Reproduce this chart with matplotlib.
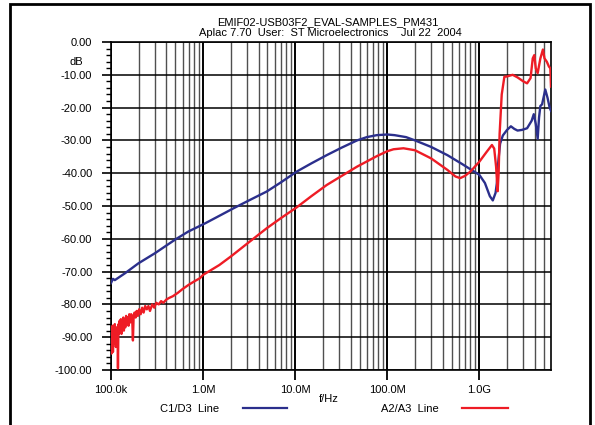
import matplotlib
matplotlib.use("Agg")
import matplotlib.pyplot as plt
from matplotlib.patches import Rectangle
from matplotlib.ticker import FixedLocator, NullFormatter

plt.rcParams['font.family'] = ['Liberation Sans', 'DejaVu Sans']

# C1/D3 line (blue)
blue_f = [1e5, 1.05e5, 1.1e5, 1.42e5, 1.98e5, 3e5, 5e5, 6.9e5, 1.05e6, 1.5e6, 2.14e6, 3.2e6,
          4.9e6, 7e6, 1.04e7, 1.5e7, 2.2e7, 3.2e7, 4.7e7, 6e7, 7.7e7, 1e8, 1.2e8, 1.6e8,
          2e8, 3e8, 4.5e8, 6.5e8, 8e8, 1e9, 1.15e9, 1.3e9, 1.4e9, 1.5e9, 1.55e9, 1.6e9,
          1.68e9, 1.8e9, 2e9, 2.2e9, 2.4e9, 2.6e9, 2.9e9, 3.3e9, 3.7e9, 3.9e9, 4.1e9,
          4.3e9, 4.45e9, 4.6e9, 4.8e9, 5.2e9, 5.5e9, 5.8e9, 6e9]
blue_db = [-73.5, -72.2, -72.6, -70.5, -67.5, -64.4, -60.2, -57.8, -55.3, -53, -50.7, -48.2,
           -45.6, -42.8, -39.5, -37, -34.5, -32.2, -30, -29, -28.4, -28.2, -28.4, -29,
           -30, -32, -34.5, -37.2, -38.8, -40.5, -43, -47, -48.3, -46, -43, -37,
           -31, -28.5, -26.8, -25.7, -26.5, -27, -26.8, -26.3, -24, -22, -25,
           -29.5, -23, -19.5, -19, -14.5, -17, -20, -21]

# A2/A3 line (red)
red_f = [1.00e5, 1.01e5, 1.02e5, 1.03e5, 1.04e5, 1.05e5, 1.06e5, 1.07e5, 1.08e5, 1.09e5,
         1.10e5, 1.11e5, 1.12e5, 1.13e5, 1.14e5, 1.15e5, 1.16e5, 1.17e5, 1.18e5, 1.19e5,
         1.20e5, 1.21e5, 1.22e5, 1.24e5, 1.26e5, 1.28e5, 1.30e5, 1.32e5, 1.34e5, 1.36e5,
         1.38e5, 1.40e5, 1.43e5, 1.46e5, 1.49e5, 1.52e5, 1.55e5, 1.58e5, 1.62e5, 1.66e5,
         1.70e5, 1.73e5, 1.76e5, 1.80e5, 1.85e5, 1.90e5, 1.96e5, 2.02e5, 2.10e5, 2.18e5,
         2.26e5, 2.35e5, 2.45e5, 2.55e5, 2.65e5, 2.80e5, 2.95e5, 3.10e5, 3.30e5, 3.50e5,
         3.70e5, 4.00e5, 4.30e5, 4.70e5, 5.30e5, 6.00e5, 7.00e5, 8.00e5, 9.25e5,
         1e6, 1.5e6, 2e6, 3e6, 4.9e6, 7e6, 1.04e7, 1.5e7, 2.2e7, 3e7, 4.7e7, 7.7e7, 1e8,
         1.17e8, 1.5e8, 2e8, 3e8, 4.5e8, 5.5e8, 6.2e8, 7e8, 8e8, 1e9, 1.2e9, 1.37e9,
         1.45e9, 1.52e9, 1.58e9, 1.62e9, 1.66e9, 1.75e9, 1.87e9, 2.0e9, 2.3e9, 2.6e9,
         3.0e9, 3.3e9, 3.6e9, 3.8e9, 3.95e9, 4.1e9, 4.3e9, 4.6e9, 4.9e9, 5.1e9, 5.4e9,
         5.7e9, 5.9e9, 6e9]
red_db = [-88, -95, -87, -93, -86.5, -94.5, -89, -92, -87, -91,
          -86, -90, -88, -93, -87, -91, -88, -92, -89, -99.5,
          -90, -86, -89, -85, -88, -84.5, -89, -85, -87, -84,
          -88, -85, -87, -83.5, -86, -84, -86.5, -83, -85.5, -83,
          -84.5, -91, -84, -82.5, -84, -82, -83.5, -81.5, -83, -81,
          -82.5, -80.5, -81.5, -80.5, -82, -80, -81, -79.5, -80, -79,
          -79.5, -78.5, -78, -77.5, -76.5, -75.3, -74, -73, -72,
          -71, -68, -65.4, -61.5, -56.8, -53.7, -50.4, -47, -43.6, -41.3, -38, -34.8, -33.3,
          -32.7, -32.4, -33, -35.5, -39, -41, -41.5, -40.8, -39.5, -36.5, -33.5, -31.4,
          -32.5, -38, -45.5, -40, -28, -16, -10.6, -10.5, -10, -10.8,
          -12, -12.6, -11, -5, -4, -8, -9.5, -5, -2.3, -5, -6,
          -7.5, -8, -13.6]

x_ticks = [1e5, 1e6, 1e7, 1e8, 1e9]
x_labels = ["100.0k", "1.0M", "10.0M", "100.0M", "1.0G"]
y_ticks = [0, -10, -20, -30, -40, -50, -60, -70, -80, -90, -100]

fig = plt.figure(figsize=(5.95, 4.25), dpi=100)
ax = fig.add_axes([111 / 595, 1 - 370 / 425, 440 / 595, 328 / 425])

blue = "#2b2f8c"
red = "#ee1c25"
ax.plot(blue_f, blue_db, color=blue, lw=1.7, zorder=3)
ax.plot(red_f, red_db, color=red, lw=1.7, zorder=3)

ax.set_xscale("log")
ax.set_xlim(1e5, 6e9)
ax.set_ylim(-100, 0)

# grid: decades black, minor grey
ax.xaxis.set_major_locator(FixedLocator(x_ticks))
ax.set_xticklabels(x_labels)
ax.xaxis.set_minor_locator(FixedLocator([m * 10 ** e for e in range(5, 10) for m in range(2, 10)
                                         if m * 10 ** e < 6e9]))
ax.xaxis.set_minor_formatter(NullFormatter())
ax.grid(True, which="major", axis="x", color="black", lw=1.4)
ax.grid(True, which="minor", axis="x", color="#505050", lw=1.0)
ax.grid(True, which="major", axis="y", color="black", lw=1.1)

ax.set_yticks(y_ticks)
ax.set_yticklabels(["%.2f" % v for v in y_ticks])
ax.yaxis.set_minor_locator(FixedLocator(range(-100, 1, 2)))

ax.tick_params(axis="x", which="major", direction="out", length=7, width=1.3,
               labelsize=8, pad=4)
ax.tick_params(axis="x", which="minor", length=0)
ax.tick_params(axis="y", which="major", direction="out", length=6.5, width=1.2,
               labelsize=8, pad=7)
ax.tick_params(axis="y", which="minor", direction="out", length=3.8, width=1.0)
for s in ax.spines.values():
    s.set_linewidth(1.2)

fig.text(76 / 595, 1 - 62 / 425, "dB", fontsize=8, ha="center", va="center")
fig.text(329 / 595, 1 - 399 / 425, "f/Hz", fontsize=8, ha="center", va="center")

fig.text(328 / 595, 1 - 22 / 425, "EMIF02-USB03F2_EVAL-SAMPLES_PM431",
         fontsize=8, ha="center", va="center")
fig.text(330 / 595, 1 - 33 / 425, "Aplac 7.70  User:  ST Microelectronics    Jul 22  2004",
         fontsize=8, ha="center", va="center")

# legend at the bottom
fig.text(190 / 595, 1 - 409 / 425, "C1/D3  Line", fontsize=8, ha="center", va="center")
fig.text(410 / 595, 1 - 409 / 425, "A2/A3  Line", fontsize=8, ha="center", va="center")
fig.add_artist(plt.Line2D([243 / 595, 287 / 595], [1 - 408 / 425] * 2, color=blue, lw=1.6))
fig.add_artist(plt.Line2D([462 / 595, 508 / 595], [1 - 408 / 425] * 2, color=red, lw=1.6))

# outer frame
fig.add_artist(Rectangle((10 / 595, -0.05), 580 / 595, 1.05 - 4 / 425, fill=False,
                         edgecolor="black", lw=2, transform=fig.transFigure))

fig.savefig("out.png", dpi=100)
